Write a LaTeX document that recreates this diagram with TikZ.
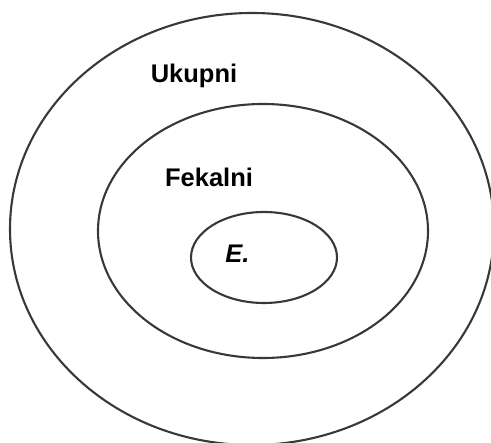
\documentclass[tikz,border=0pt]{standalone}
\usepackage{fontspec}
\setmainfont{Liberation Sans}
\begin{document}
\begin{tikzpicture}[x=1pt,y=-1pt,
  ring/.style={draw=black!78,line width=2.1pt},
  lbl/.style={font=\fontsize{25.5}{30}\selectfont\bfseries,anchor=base,inner sep=0pt}]
\useasboundingbox (0,0) rectangle (491,443);
\draw[ring] (252,229) ellipse [x radius=242, y radius=216];
\draw[ring] (263,231) ellipse [x radius=165, y radius=127];
\draw[ring] (264,257.5) ellipse [x radius=73, y radius=45.5];
\node[lbl] (u) at (194,83) {Ukupni};
\node[lbl] (f) at (209,187) {Fekalni};
\node[lbl,font=\fontsize{25.5}{30}\selectfont\bfseries\itshape] (e) at (237.5,263) {E.};
\end{tikzpicture}
\end{document}
